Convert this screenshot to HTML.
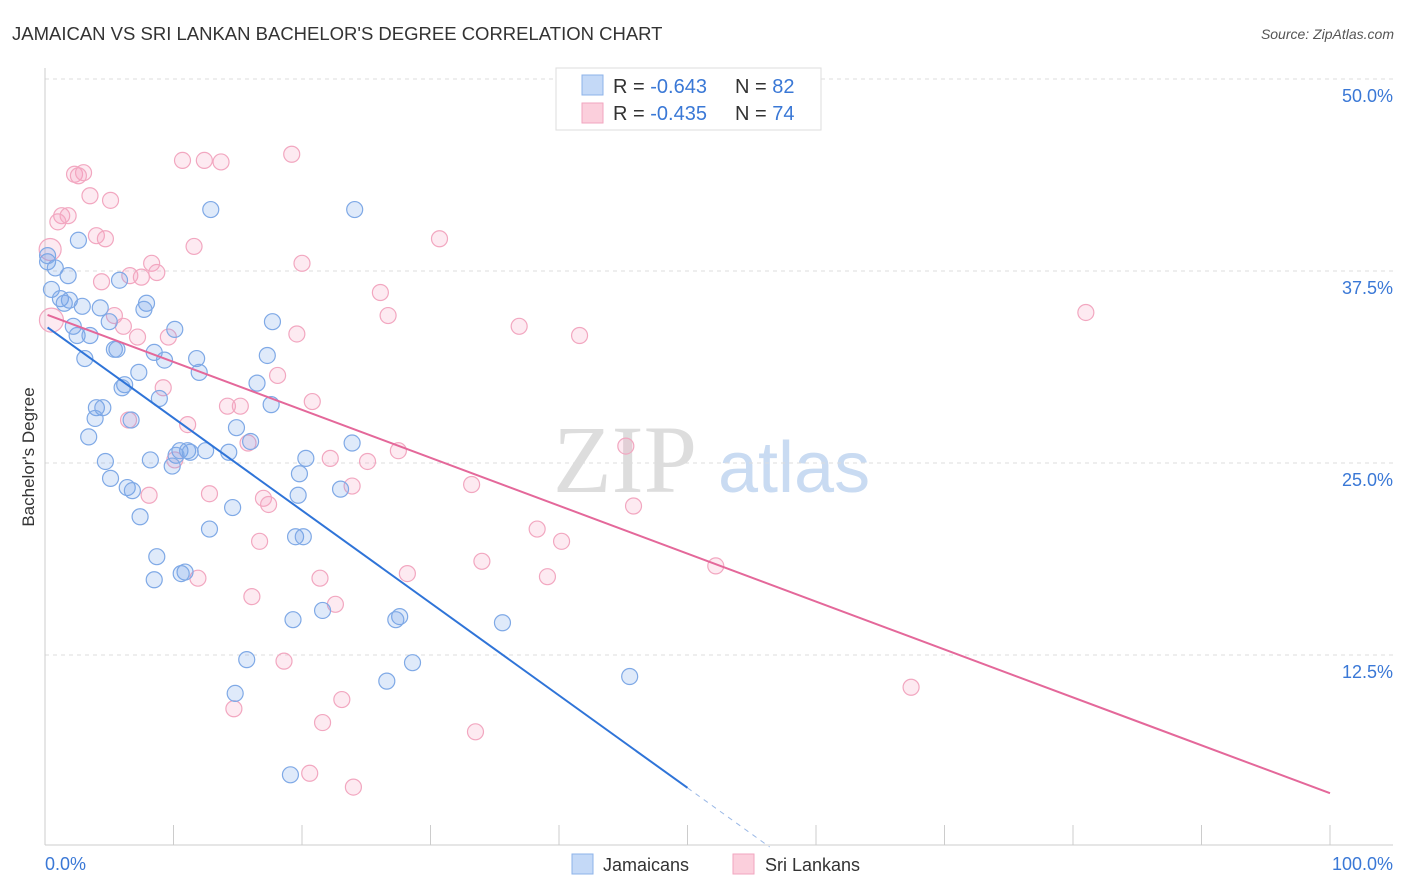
<!DOCTYPE html>
<html><head><meta charset="utf-8"><style>
body{margin:0;background:#fff;font-family:"Liberation Sans",sans-serif;}
svg{display:block}
</style></head><body>
<svg id="c" width="1406" height="892">
<text x="12" y="40" font-size="18.5" fill="#333">JAMAICAN VS SRI LANKAN BACHELOR'S DEGREE CORRELATION CHART</text>
<text x="1394" y="39" font-size="14" fill="#555" font-style="italic" text-anchor="end">Source: ZipAtlas.com</text>
<g>
<text x="553" y="492" font-size="96" fill="#ddd" font-family="Liberation Serif,serif">ZIP</text>
<text x="718" y="492" font-size="72" fill="#c9dbf2">atlas</text>
</g>
<g id="grid"></g>
<g id="axes"></g>
<g id="pts"></g>
<g id="trend"></g>
<text x="34" y="457" font-size="17" fill="#333" text-anchor="middle" transform="rotate(-90 34 457)">Bachelor's Degree</text>
<g>
<rect x="556" y="68" width="265" height="62" fill="#fff" stroke="#ddd"/>
<rect x="582" y="75" width="21" height="20" fill="#c4d9f7" stroke="#8db3ea"/>
<rect x="582" y="103" width="21" height="20" fill="#fbcfdc" stroke="#f1a6bf"/>
<text x="613" y="93" font-size="20" fill="#333">R = <tspan fill="#3a78d6">-0.643</tspan><tspan x="735">N = </tspan><tspan fill="#3a78d6">82</tspan></text>
<text x="613" y="120" font-size="20" fill="#333">R = <tspan fill="#3a78d6">-0.435</tspan><tspan x="735">N = </tspan><tspan fill="#3a78d6">74</tspan></text>
</g>
<g>
<rect x="572" y="854" width="21" height="20" fill="#c4d9f7" stroke="#8db3ea"/>
<text x="603" y="871" font-size="18" fill="#333">Jamaicans</text>
<rect x="733" y="854" width="21" height="20" fill="#fbcfdc" stroke="#f1a6bf"/>
<text x="765" y="871" font-size="18" fill="#333">Sri Lankans</text>
</g>
</svg>
<script>
const blueX=[0.2,0.8,1.8,0.5,1.2,1.9,1.5,2.9,4.3,2.6,0.2,2.2,2.5,3.5,5.0,5.6,5.4,3.1,5.8,7.9,7.7,10.1,8.5,9.3,11.8,12.0,7.3,6.2,6.0,8.9,4.0,4.5,3.9,6.7,3.4,12.9,24.1,17.7,17.3,16.5,17.6,14.9,16.0,14.3,10.5,11.1,11.3,12.5,10.2,9.9,8.2,4.7,5.1,6.4,6.8,20.3,19.8,23.9,23.0,19.7,14.6,12.8,7.4,8.7,8.5,10.9,10.6,19.5,20.1,21.6,19.3,27.6,27.3,35.6,15.7,28.6,26.6,45.5,14.8,19.1];
const blueY=[38.1,37.7,37.2,36.3,35.7,35.6,35.4,35.2,35.1,39.5,38.5,33.9,33.3,33.3,34.2,32.4,32.4,31.8,36.9,35.4,35.0,33.7,32.2,31.7,31.8,30.9,30.9,30.1,29.9,29.2,28.6,28.6,27.9,27.8,26.7,41.5,41.5,34.2,32.0,30.2,28.8,27.3,26.4,25.7,25.8,25.8,25.7,25.8,25.5,24.8,25.2,25.1,24.0,23.4,23.2,25.3,24.3,26.3,23.3,22.9,22.1,20.7,21.5,18.9,17.4,17.9,17.8,20.2,20.2,15.4,14.8,15.0,14.8,14.6,12.2,12.0,10.8,11.1,10.0,4.7];
const pinkX=[0.4,0.5,1.3,1.0,1.8,2.3,3.0,2.6,3.5,5.1,10.7,12.4,13.7,19.2,4.0,4.7,11.6,20.0,30.7,8.3,8.7,6.6,7.5,4.4,26.1,5.4,6.1,7.2,9.6,19.6,26.7,36.9,41.6,81.0,18.1,9.2,20.8,14.2,15.2,11.1,6.5,15.8,27.5,10.1,22.2,25.1,45.2,33.2,23.9,12.8,17.0,17.4,8.1,45.8,38.3,40.2,16.7,34.0,28.2,21.4,39.1,11.9,52.2,16.1,22.6,18.6,67.4,23.1,14.7,21.6,33.5,20.6,24.0];
const pinkY=[38.9,34.3,41.1,40.7,41.1,43.8,43.9,43.7,42.4,42.1,44.7,44.7,44.6,45.1,39.8,39.6,39.1,38.0,39.6,38.0,37.4,37.2,37.1,36.8,36.1,34.6,33.9,33.2,33.2,33.4,34.6,33.9,33.3,34.8,30.7,29.9,29.0,28.7,28.7,27.5,27.8,26.3,25.8,25.2,25.3,25.1,26.1,23.6,23.5,23.0,22.7,22.3,22.9,22.2,20.7,19.9,19.9,18.6,17.8,17.5,17.6,17.5,18.3,16.3,15.8,12.1,10.4,9.6,9.0,8.1,7.5,4.8,3.9];
const pinkR=[11,12];
const yTicks=[12.5,25,37.5,50];
const yTickLabels=["12.5%","25.0%","37.5%","50.0%"];
const xTickVals=[0,10,20,30,40,50,60,70,80,90,100];
const blueTrend=[33.95,-0.602];
const pinkTrend=[34.7,-0.312];
const NS="http://www.w3.org/2000/svg";
const X=v=>45+v*12.85, Y=v=>847-v*15.36;
function mk(t,a,p){const e=document.createElementNS(NS,t);for(const k in a)e.setAttribute(k,a[k]);p.appendChild(e);return e;}
const grid=document.getElementById('grid'),axes=document.getElementById('axes'),pts=document.getElementById('pts'),tr=document.getElementById('trend');
yTicks.forEach((v,i)=>{
 const l=mk('line',{x1:45,x2:1393,y1:Y(v),y2:Y(v),stroke:'#ddd','stroke-dasharray':'4,4'},grid);
 
 
 const t=mk('text',{x:1393,y:Y(v)+23,'font-size':18,fill:'#3a78d6','text-anchor':'end'},axes);
 t.textContent=yTickLabels[i];
 
 
});
let a=mk('line',{x1:45,x2:45,y1:68,y2:845,stroke:'#ccc'},axes);


a=mk('line',{x1:45,x2:1393,y1:845,y2:845,stroke:'#ccc'},axes);


xTickVals.slice(1).forEach(v=>{
 const l=mk('line',{x1:X(v),x2:X(v),y1:825,y2:845,stroke:'#ccc'},axes);
 
 
});
let t=mk('text',{x:45,y:870,'font-size':18,fill:'#3a78d6'},axes);t.textContent='0.0%';


t=mk('text',{x:1393,y:870,'font-size':18,fill:'#3a78d6','text-anchor':'end'},axes);t.textContent='100.0%';


pinkX.forEach((x,i)=>{
 const c=mk('circle',{cx:X(x),cy:Y(pinkY[i]),r:i<2?pinkR[i]:8,fill:'rgba(244,160,190,0.22)',stroke:'#f2a7c0','stroke-width':1.2},pts);
 
 
});
blueX.forEach((x,i)=>{
 const c=mk('circle',{cx:X(x),cy:Y(blueY[i]),r:8,fill:'rgba(110,160,230,0.22)',stroke:'#7fa9e6','stroke-width':1.2},pts);
 
 
});
const bf=x=>blueTrend[0]+blueTrend[1]*x, pf=x=>pinkTrend[0]+pinkTrend[1]*x;
let l=mk('line',{x1:X(0.2),y1:Y(bf(0.2)),x2:X(50),y2:Y(bf(50)),stroke:'#2f74d8','stroke-width':2},tr);


const xe=-blueTrend[0]/blueTrend[1];
l=mk('line',{x1:X(50),y1:Y(bf(50)),x2:X(xe),y2:Y(0),stroke:'#9ab8e6','stroke-width':1,'stroke-dasharray':'5,5'},tr);


l=mk('line',{x1:X(0.2),y1:Y(pf(0.2)),x2:X(100),y2:Y(pf(100)),stroke:'#e4689a','stroke-width':2},tr);


</script>
</body></html>
